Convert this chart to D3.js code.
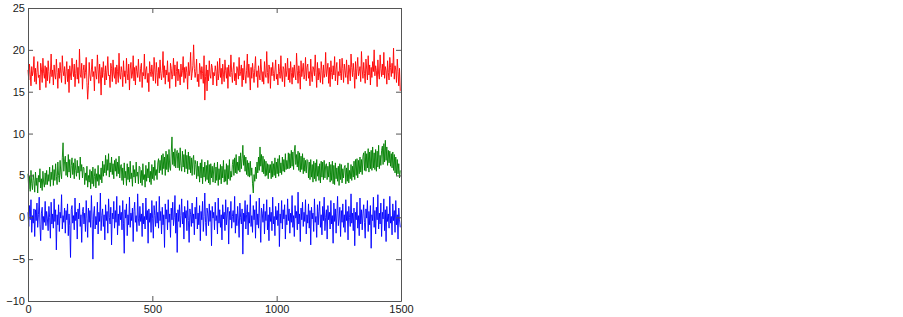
<!DOCTYPE html>
<html>
<head>
<meta charset="utf-8">
<script src="https://cdn.jsdelivr.net/npm/d3@7"></script>
<style>
  body { margin: 0; background: #fff; }
  .axis text { font-family: "Liberation Sans", Arial, sans-serif; font-size: 11px; fill: #1a1a1a; }
  .axis path, .axis line { stroke: #555; }
</style>
</head>
<body>
<svg id="chart" width="903" height="317"></svg>
<script>
// values are read every 3 samples (samples 0..1497)
const sampleStep = 3;

const redSeries = [
  17.6,16.4,18.3,17.1,15.7,18.0,16.9,17.5,19.2,16.2,17.8,15.9,17.3,18.6,16.7,17.0,15.2,18.4,17.7,16.1,19.0,17.2,16.6,18.1,15.5,
  17.9,16.3,18.7,17.4,16.0,17.1,19.5,16.8,17.6,15.8,18.2,17.0,16.5,18.9,17.3,15.4,17.8,16.6,18.5,17.2,16.1,19.3,17.5,16.9,18.0,
  15.9,17.4,18.6,16.2,17.7,14.9,18.1,17.0,16.4,19.0,17.6,16.8,18.3,15.6,17.2,18.8,16.5,17.9,16.0,20.1,17.1,16.7,18.4,15.3,17.5,
  18.2,16.6,17.3,19.1,16.1,14.1,15.7,18.5,17.0,16.3,17.6,18.9,16.8,17.4,15.1,18.0,17.2,16.5,19.4,17.7,16.0,18.3,17.1,14.6,17.9,
  16.7,18.6,17.3,15.8,18.1,16.4,17.5,19.2,16.9,17.0,15.5,18.4,17.8,16.2,18.8,17.1,16.6,17.9,15.9,18.2,17.4,16.1,19.6,17.0,16.5,
  18.0,17.3,15.6,18.7,16.8,17.5,16.0,19.0,17.2,16.4,18.3,15.2,17.7,18.5,16.6,17.1,19.3,16.3,17.9,15.8,18.1,17.4,16.7,18.9,17.0,
  16.2,17.8,18.4,15.5,17.3,16.9,19.5,16.5,17.6,18.0,16.1,17.2,15.0,18.6,17.4,16.8,18.2,17.1,16.3,19.1,17.7,16.0,18.5,17.3,15.7,
  17.9,16.6,18.8,17.2,16.4,17.5,19.8,16.7,18.1,15.9,17.6,17.0,18.7,16.2,17.3,15.4,18.4,17.8,16.5,17.1,19.0,16.9,18.2,15.6,17.4,
  18.6,16.3,17.7,17.0,15.8,18.3,16.8,17.5,19.2,16.1,17.9,16.6,18.0,17.3,15.3,18.5,16.9,17.6,19.7,16.4,17.2,18.1,20.6,17.8,16.7,
  17.4,18.9,16.2,17.1,15.6,18.4,17.7,16.5,18.0,17.2,16.0,19.3,14.0,16.8,18.2,15.1,17.6,16.3,18.7,17.0,16.6,18.3,17.9,15.8,17.3,
  16.9,18.1,17.4,15.7,18.6,16.4,17.2,19.0,16.7,17.8,15.9,18.3,17.1,16.2,18.8,17.5,16.6,17.9,15.4,18.2,17.0,16.8,19.4,17.3,16.1,
  17.7,18.5,16.3,17.2,15.8,18.0,17.6,16.5,19.1,16.9,17.4,18.2,15.6,17.8,16.4,18.7,17.1,16.0,17.5,19.5,16.7,18.3,17.0,15.2,17.9,
  16.6,18.4,17.3,16.1,17.8,19.2,16.8,17.5,15.5,18.1,17.0,16.4,18.9,17.6,16.2,17.4,15.9,18.6,17.1,16.7,19.8,17.3,16.0,18.2,17.7,
  15.4,17.9,16.9,18.5,17.2,16.3,17.6,18.8,16.5,17.1,15.8,18.3,17.4,16.6,19.3,17.0,16.2,18.0,17.7,15.6,18.4,16.8,17.5,19.0,16.4,
  17.8,16.1,18.6,17.3,15.9,17.9,16.7,18.2,17.0,16.4,19.6,17.5,16.0,18.1,17.2,15.3,18.7,16.8,17.6,18.4,16.5,17.1,19.1,16.3,17.9,
  18.3,16.6,17.4,15.7,18.9,17.1,16.2,18.0,17.7,16.9,19.4,17.3,15.5,18.5,16.4,17.8,17.0,16.1,18.6,17.5,15.9,18.2,16.7,17.2,19.7,
  16.8,17.6,18.4,16.0,17.9,15.6,18.7,17.3,16.5,18.1,17.0,19.2,16.3,17.7,18.5,15.8,17.4,16.9,18.9,17.2,16.4,19.0,17.8,16.1,18.3,
  17.5,16.7,18.8,17.1,15.9,18.2,17.6,16.3,19.5,17.9,16.8,18.4,17.3,15.4,18.6,16.5,17.8,19.1,16.9,17.4,18.0,16.2,19.8,17.6,16.6,
  18.5,17.2,16.0,18.9,17.7,16.4,19.3,17.0,18.2,15.8,17.9,16.7,18.6,17.4,20.0,16.9,18.1,17.5,15.6,18.8,17.1,16.5,19.4,17.8,16.8,
  18.3,17.0,19.7,16.6,18.0,17.5,15.9,18.7,17.3,16.4,19.1,17.9,16.8,18.4,17.2,20.2,16.5,18.1,17.6,16.1,18.9,17.4,15.7,17.8,15.1
];

const greenSeries = [
  5.2,3.4,4.9,3.1,5.6,4.0,3.3,5.1,4.4,3.0,5.4,3.8,4.7,2.9,5.0,4.2,5.8,3.5,4.6,3.2,5.5,4.1,3.6,5.3,3.9,
  5.6,3.9,5.1,4.3,6.0,3.7,5.4,4.5,6.2,3.8,5.7,4.4,6.4,4.9,3.9,6.6,5.0,4.2,6.8,5.3,4.6,7.1,8.9,5.5,6.7,
  7.3,5.0,6.6,4.8,7.5,5.4,6.9,4.7,6.2,7.1,5.1,6.5,4.6,7.0,5.6,4.9,6.8,5.3,6.1,4.5,7.2,5.5,6.3,4.7,6.0,
  5.9,3.9,5.3,4.4,6.1,3.6,5.0,4.2,5.7,3.4,5.5,4.0,6.0,3.7,4.9,5.8,3.5,5.2,4.3,6.2,3.8,5.1,4.5,5.9,4.1,
  6.7,4.9,6.3,5.3,7.4,5.0,6.9,5.6,7.6,4.8,6.5,5.4,7.2,5.1,6.4,4.6,6.8,5.5,7.0,4.9,6.6,5.2,7.3,4.7,6.1,
  6.3,4.4,5.9,3.9,6.5,4.7,5.5,3.8,6.4,4.5,6.0,4.2,6.7,4.6,5.3,3.7,6.2,4.8,5.7,4.1,6.6,4.9,5.4,4.0,6.1,
  6.0,4.1,5.6,3.8,6.4,4.5,5.1,3.6,6.2,4.3,5.8,4.7,6.6,4.2,5.5,3.9,6.3,4.6,6.0,4.4,6.8,5.0,5.7,4.5,6.5,
  7.0,5.3,6.8,5.6,7.4,5.1,7.6,5.8,7.2,5.0,7.9,5.7,7.5,5.4,8.1,6.0,5.6,7.7,9.6,6.3,7.8,6.1,8.2,5.9,7.6,
  8.0,5.9,7.7,5.6,8.3,6.2,5.5,7.9,6.0,7.5,5.4,8.1,5.8,7.4,5.2,7.8,5.7,7.3,5.3,7.1,5.0,6.9,7.4,5.1,6.8,
  6.3,4.6,6.7,4.9,6.1,4.2,6.5,4.7,6.9,4.0,6.0,4.8,6.6,4.3,6.2,4.5,6.8,4.1,6.3,3.9,6.4,4.7,6.1,4.2,5.9,
  6.5,4.1,6.0,4.4,6.6,3.8,5.8,4.5,6.3,4.0,6.1,4.7,6.8,4.2,5.7,4.3,6.4,3.9,6.2,4.6,6.9,4.4,5.5,4.8,6.3,
  6.9,5.0,7.1,5.3,7.5,5.2,6.6,5.6,7.3,5.4,7.7,5.8,7.0,8.6,6.2,7.4,5.5,7.2,5.1,6.8,4.9,6.5,4.8,6.7,5.0,
  5.9,4.0,2.9,5.1,4.3,6.0,4.6,6.6,5.3,7.2,5.6,8.4,6.1,7.5,5.4,7.3,5.2,6.9,4.9,6.7,5.0,6.4,4.6,6.3,5.3,
  6.3,4.6,6.7,4.8,6.4,5.0,7.1,4.7,6.6,5.2,7.0,4.9,7.4,5.3,6.5,5.1,7.2,5.5,6.9,5.4,7.6,5.7,6.8,5.8,7.7,
  5.8,7.6,5.9,8.0,6.1,7.8,5.7,7.9,8.6,6.3,7.5,6.0,7.9,5.6,7.7,5.4,7.3,5.7,7.6,5.2,7.1,5.5,6.8,5.3,6.9,
  6.8,4.7,6.6,4.5,6.9,4.8,6.3,4.2,6.7,4.6,6.5,4.3,6.9,4.9,6.1,4.4,6.4,4.1,6.7,4.8,6.6,4.5,6.8,4.7,6.2,
  6.4,4.5,6.1,4.8,6.6,4.2,6.3,4.4,6.7,4.0,6.2,3.9,6.5,4.6,5.9,4.3,6.1,3.8,6.4,4.5,6.3,4.1,5.8,4.7,6.0,
  6.2,4.0,5.9,4.3,6.5,4.1,5.6,4.6,6.3,4.4,6.1,4.8,6.7,4.5,6.9,5.0,7.0,4.7,6.8,5.2,7.2,5.4,6.9,5.1,7.3,
  7.7,5.6,7.9,5.5,7.6,5.9,8.2,5.4,7.8,5.8,8.0,5.6,8.4,5.9,7.7,5.7,8.1,5.5,7.9,6.0,8.6,5.8,7.4,6.2,8.0,
  8.5,6.3,8.8,6.6,9.2,6.8,8.4,6.2,8.0,6.5,7.9,6.1,7.6,5.9,7.8,5.6,7.5,5.3,7.2,5.0,6.9,5.2,6.4,4.7,5.6
];

const blueSeries = [
  0.6,-1.1,1.4,-0.3,2.1,-1.8,0.2,-0.7,1.0,-2.3,0.9,-0.4,1.7,-1.2,0.3,2.4,-0.9,-2.8,0.5,1.2,-1.5,0.1,-0.6,1.9,-1.0,
  0.7,-0.2,-1.6,1.3,0.0,-2.5,1.8,-0.8,0.4,-1.3,2.2,-0.5,0.9,-3.9,0.3,-0.9,1.5,-1.7,0.6,-0.1,2.7,-1.4,0.2,-0.6,1.1,
  -1.9,0.8,-0.3,1.6,-2.2,0.4,-1.0,-4.8,0.9,1.4,-0.7,0.2,-1.5,2.3,-0.4,0.6,-2.6,1.0,-0.2,1.7,-1.1,0.3,-3.0,0.7,1.2,
  -0.8,0.5,-1.7,2.0,-0.1,-2.4,1.1,-0.6,0.8,-1.2,2.6,-0.3,-5.0,0.4,1.3,-1.4,0.1,-0.9,1.8,-2.0,0.6,-0.5,2.9,-1.6,0.2,
  1.0,-1.1,0.3,-2.7,1.5,-0.4,0.7,-1.9,2.2,0.0,-0.8,1.2,-3.3,0.5,-0.2,1.9,-1.3,0.8,-0.6,2.5,-2.1,0.4,-1.0,1.4,-0.3,
  0.6,-1.5,2.0,-0.7,-4.3,0.9,-0.1,1.6,-2.2,0.3,-0.9,2.4,-1.2,0.5,-0.4,1.1,-2.9,0.7,1.8,-0.6,0.2,-1.7,2.8,-0.2,-1.0,
  1.3,-0.5,0.4,-2.3,1.7,-0.8,0.1,-1.4,2.3,-0.3,0.8,-3.1,1.0,-0.6,0.5,-1.8,2.0,-0.1,-2.5,1.4,0.2,-1.1,1.9,-0.7,0.6,
  -1.3,2.5,-0.4,0.7,-2.0,1.2,-0.9,0.3,-3.6,1.6,-0.2,0.9,-1.5,2.1,-0.6,0.4,-2.4,1.1,-0.3,1.8,-1.0,0.0,2.6,-1.9,0.5,
  -4.2,0.9,-0.5,1.5,-1.2,0.2,2.2,-0.8,0.6,-2.6,1.3,-0.1,0.8,-1.6,2.0,-0.4,-3.0,1.0,0.3,-1.1,1.7,-0.7,0.4,-2.1,1.2,
  -0.2,2.4,-1.4,0.5,-0.9,1.4,-2.8,0.7,-0.3,1.9,-1.7,0.1,2.9,-0.6,-2.2,1.1,0.4,-1.0,1.6,-0.5,0.8,-3.4,1.3,-0.1,0.6,
  -1.5,1.8,-0.4,0.2,-2.0,2.3,-0.7,0.9,-1.2,0.3,-2.7,1.5,-0.2,0.6,-1.6,2.1,-0.9,0.4,1.2,-3.2,0.7,-0.3,1.9,-1.3,0.1,
  0.8,-0.6,2.5,-1.9,0.4,-1.0,1.3,-0.2,-2.4,1.7,0.0,-0.8,1.0,-4.4,0.5,-0.5,2.0,-1.4,0.3,1.5,-2.1,0.6,-0.7,2.7,-1.1,
  0.2,-1.8,1.4,-0.3,0.9,-2.5,1.9,-0.9,0.4,-1.3,2.3,-0.1,-3.0,1.1,0.5,-0.6,1.6,-2.0,0.7,-0.4,2.1,-1.5,0.3,-2.8,1.2,
  -0.5,0.6,-1.6,2.4,-0.8,0.1,-2.2,1.3,-0.3,0.8,-1.0,1.7,-3.5,0.4,-0.7,2.0,-1.4,0.9,-0.2,1.5,-2.6,0.3,-0.9,2.2,-0.4,
  1.0,-1.9,0.5,-0.6,2.6,-1.2,0.2,-2.3,1.4,-0.1,0.7,-1.5,3.0,-0.8,0.4,-2.9,1.1,-0.3,1.8,-1.1,0.6,-0.5,2.1,-2.0,0.3,
  -0.7,1.6,-1.3,0.8,-3.3,1.2,-0.2,0.5,-1.7,2.2,-0.6,0.1,-2.4,1.5,-0.9,0.7,1.9,-1.2,0.3,-2.1,1.3,-0.4,2.4,-1.6,0.0,
  0.9,-2.6,1.4,-0.3,0.6,-1.4,2.0,-0.8,0.2,-3.1,1.7,-0.5,1.0,-1.9,0.4,2.5,-1.0,-0.2,1.2,-2.3,0.8,-0.6,1.6,-1.2,0.3,
  -1.8,2.1,-0.4,0.7,-2.7,1.3,0.0,-1.1,2.8,-0.7,0.5,-1.6,1.1,-3.4,0.6,-0.3,1.8,-1.3,0.2,-2.2,2.3,-0.8,0.9,-1.5,0.4,
  1.5,-0.6,-2.5,1.0,-0.1,2.0,-1.7,0.7,-0.9,1.4,-3.7,0.3,-0.4,2.4,-1.2,0.8,-2.0,1.2,-0.3,2.7,-1.4,0.5,-0.8,1.7,-2.3,
  0.6,-0.2,2.2,-1.6,0.9,-2.9,1.3,-0.5,0.4,-1.3,2.5,-0.7,0.1,-2.1,1.6,-0.4,0.8,-1.8,2.0,-0.9,0.3,-2.6,1.1,-0.3,-1.2
];

const xTicks = [0, 500, 1000, 1500];
const yTicks = [-10, -5, 0, 5, 10, 15, 20, 25];

// drawn in plot order: blue, green, red
const series = [
  { values: blueSeries, color: '#0000ff' },
  { values: greenSeries, color: '#008000' },
  { values: redSeries, color: '#ff0000' }
];

const margin = { top: 8, left: 28 };
const width = 373;
const height = 293;

const svg = d3.select('#chart');
const g = svg.append('g')
  .attr('transform', `translate(${margin.left}, ${margin.top})`);

const x = d3.scaleLinear().domain([0, 1500]).range([0, width]);
const y = d3.scaleLinear().domain([-10, 25]).range([height, 0]);

const line = d3.line()
  .x((d, i) => x(i * sampleStep))
  .y(d => y(d));

series.forEach(s => {
  g.append('path')
    .datum(s.values)
    .attr('fill', 'none')
    .attr('stroke', s.color)
    .attr('stroke-width', 0.9)
    .attr('d', line);
});

// box axes, ticks pointing inward
g.append('g')
  .attr('class', 'axis')
  .attr('transform', `translate(0, ${height})`)
  .call(d3.axisBottom(x).tickValues(xTicks).tickFormat(d3.format('d')).tickSizeInner(-5).tickSizeOuter(0).tickPadding(4));

g.append('g')
  .attr('class', 'axis')
  .call(d3.axisLeft(y).tickValues(yTicks).tickSizeInner(-5).tickSizeOuter(0).tickPadding(3));

g.append('g')
  .attr('class', 'axis')
  .call(d3.axisTop(x).tickValues(xTicks).tickSizeInner(-5).tickSizeOuter(0).tickFormat(''));

g.append('g')
  .attr('class', 'axis')
  .attr('transform', `translate(${width}, 0)`)
  .call(d3.axisRight(y).tickValues(yTicks).tickSizeInner(-5).tickSizeOuter(0).tickFormat(''));
</script>
</body>
</html>
